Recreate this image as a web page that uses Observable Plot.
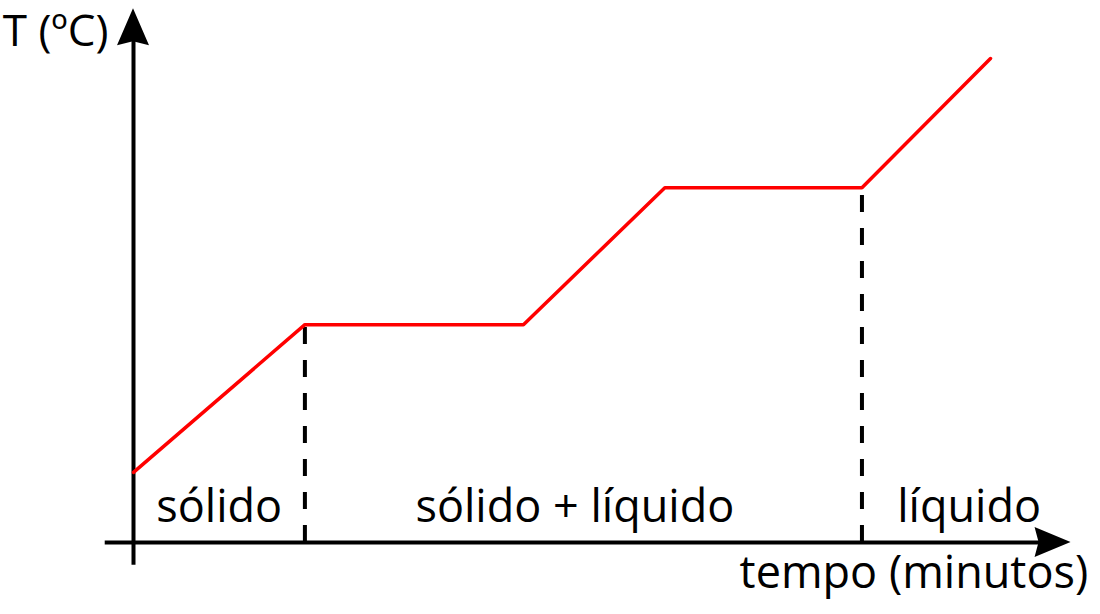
<!DOCTYPE html>
<html>
<head>
<meta charset="utf-8">
<script src="https://cdn.jsdelivr.net/npm/d3@7"></script>
<script src="https://cdn.jsdelivr.net/npm/@observablehq/plot@0.6"></script>
<style>
  html, body { margin: 0; padding: 0; background: #fff; }
  #chart svg { display: block; }
</style>
</head>
<body>
<div id="chart"></div>
<script>
// Heating curve (schematic): time vs temperature
const tempo = [0, 2, 4.55, 6.2, 8.5, 10];
const temperatura = [1.45, 4.5, 4.5, 7.33, 7.33, 10];

// phase-change boundaries (dashed lines)
const limites = [2, 8.5];
const limitesT = [4.5, 7.33];

// region labels
const fases = ["sólido", "sólido + líquido", "líquido"];
const fasesX = [1, 5.15, 9.75];

const yLabel = "T (ºC)";
const xLabel = "tempo (minutos)";

const curve = tempo.map((t, i) => ({t, T: temperatura[i]}));
const dashes = limites.map((t, i) => ({t, T: limitesT[i]}));
const labels = fases.map((s, i) => ({s, t: fasesX[i]}));

// axis extents (data units)
const xAxisStart = -0.33, xAxisEnd = 10.94;
const yAxisStart = -0.47, yAxisEnd = 11.03;

const FONT = "'Open Sans', 'Noto Sans', sans-serif";
const FS = 45;

function arrowHeads(index, {x, y}) {
  const ns = "http://www.w3.org/2000/svg";
  const g = document.createElementNS(ns, "g");
  const x0 = x(0), y0 = y(0);
  const ty = y(yAxisEnd), tx = x(xAxisEnd);
  const up = document.createElementNS(ns, "path");
  up.setAttribute("d", `M${x0},${ty} L${x0 + 16},${ty + 37} L${x0},${ty + 33} L${x0 - 16},${ty + 37} Z`);
  up.setAttribute("fill", "#000");
  const right = document.createElementNS(ns, "path");
  right.setAttribute("d", `M${tx},${y0} L${tx - 36},${y0 - 15} L${tx - 32},${y0} L${tx - 36},${y0 + 15} Z`);
  right.setAttribute("fill", "#000");
  g.appendChild(up);
  g.appendChild(right);
  return g;
}

const chart = Plot.plot({
  width: 1100,
  height: 614,
  marginLeft: 133,
  marginRight: 110,
  marginTop: 58,
  marginBottom: 72,
  x: {domain: [0, 10], axis: null},
  y: {domain: [0, 10], axis: null},
  style: {fontFamily: FONT, background: "#fff", color: "#000"},
  marks: [
    // axes
    Plot.ruleY([0], {x1: xAxisStart, x2: xAxisEnd - 0.35, stroke: "#000", strokeWidth: 4}),
    Plot.ruleX([0], {y1: yAxisStart, y2: yAxisEnd - 0.65, stroke: "#000", strokeWidth: 4}),
    arrowHeads,
    // dashed phase boundaries
    Plot.ruleX(dashes, {x: "t", y1: 0, y2: "T", stroke: "#000", strokeWidth: 4, strokeDasharray: "17,16"}),
    // heating curve
    Plot.line(curve, {x: "t", y: "T", stroke: "#ff0000", strokeWidth: 3.5, strokeLinejoin: "miter"}),
    // region labels
    Plot.text(labels, {x: "t", y: 0.43, text: "s", fontSize: FS, lineAnchor: "bottom", textAnchor: "middle", fill: "#000"}),
    // axis titles
    Plot.text([yLabel], {x: 0, y: 10.26, text: d => d, dx: -25, fontSize: 44, lineAnchor: "bottom", textAnchor: "end", fill: "#000"}),
    Plot.text([xLabel], {x: 11.14, y: -0.95, text: d => d, fontSize: FS, lineAnchor: "bottom", textAnchor: "end", fill: "#000"})
  ]
});
document.getElementById("chart").appendChild(chart);
</script>
</body>
</html>
